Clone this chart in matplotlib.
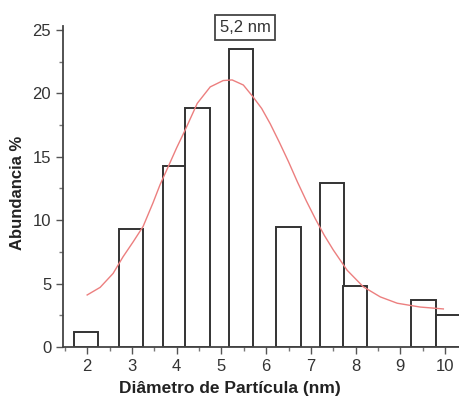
import matplotlib
matplotlib.use("Agg")
import matplotlib.pyplot as plt

# histogram bars (center, abundance %)
bar_x = [1.97, 2.98, 3.97, 4.46, 5.44, 6.50, 7.47, 7.99, 9.52, 10.07]
bar_h = [1.2, 9.3, 14.25, 18.8, 23.5, 9.45, 12.9, 4.8, 3.7, 2.5]

# fitted curve
fit_x = [2.0, 2.29, 2.58, 2.80, 3.03, 3.25, 3.47, 3.63, 3.81, 4.0, 4.19, 4.46,
         4.75, 5.04, 5.24, 5.49, 5.71, 5.90, 6.09, 6.30, 6.50, 6.70, 6.90, 7.10,
         7.30, 7.50, 7.81, 8.17, 8.55, 8.93, 9.44, 9.96]
fit_y = [4.1, 4.7, 5.8, 7.1, 8.3, 9.5, 11.35, 12.8, 14.2, 15.7, 17.1, 19.2,
         20.5, 21.0, 21.05, 20.65, 19.7, 18.8, 17.6, 16.1, 14.6, 13.0, 11.5, 10.1,
         8.8, 7.65, 6.05, 4.75, 3.95, 3.45, 3.15, 3.0]

xticks = [2, 3, 4, 5, 6, 7, 8, 9, 10]
yticks = [0, 5, 10, 15, 20, 25]

plt.rcParams['font.family'] = ['Liberation Sans Narrow', 'Liberation Sans', 'DejaVu Sans']

fig = plt.figure(figsize=(4.59, 3.98), dpi=100)
ax = fig.add_axes([63 / 459, 51 / 398, 396 / 459, 321 / 398])

ax.bar(bar_x, bar_h, width=0.55, facecolor='white', edgecolor='#333333', linewidth=1.4, zorder=2)
ax.plot(fit_x, fit_y, color='#ec7f7f', linewidth=1.0, zorder=3)

ax.set_xlim(1.46, 10.31)
ax.set_ylim(0, 25.3)
ax.set_xticks(xticks)
ax.set_yticks(yticks)
ax.set_xticks([x + 0.5 for x in xticks[:-1]] + [1.5], minor=True)
ax.set_yticks([2.5, 7.5, 12.5, 17.5, 22.5], minor=True)

for s in ['top', 'right']:
    ax.spines[s].set_visible(False)
for s in ['left', 'bottom']:
    ax.spines[s].set_color('#444444')
    ax.spines[s].set_linewidth(1.3)

ax.tick_params(which='major', direction='out', length=5, width=1, colors='#555555',
               labelsize=12, labelcolor='#333333')
ax.tick_params(which='minor', direction='out', length=3, width=1, colors='#777777')

ax.set_xlabel('Diâmetro de Partícula (nm)', fontsize=12.5, fontweight='bold', color='#222222',
              family=['Liberation Sans', 'DejaVu Sans'])
ax.set_ylabel('Abundancia %', fontsize=12, fontweight='bold', color='#222222',
              family=['Liberation Sans', 'DejaVu Sans'])
ax.xaxis.set_label_coords((230 - 63) / 396, -(388 - 347) / 321)
ax.yaxis.set_label_coords(-(63 - 17) / 396, (347 - 193) / 321)
ax.xaxis.label.set_va('center')
ax.yaxis.label.set_va('center')

fig.text(245 / 459, 1 - 27 / 398, '5,2 nm', ha='center', va='center', fontsize=12,
         color='#333333',
         bbox=dict(boxstyle='square,pad=0.3', facecolor='white', edgecolor='#444444', linewidth=1.3))

fig.savefig('out.png', dpi=100)
